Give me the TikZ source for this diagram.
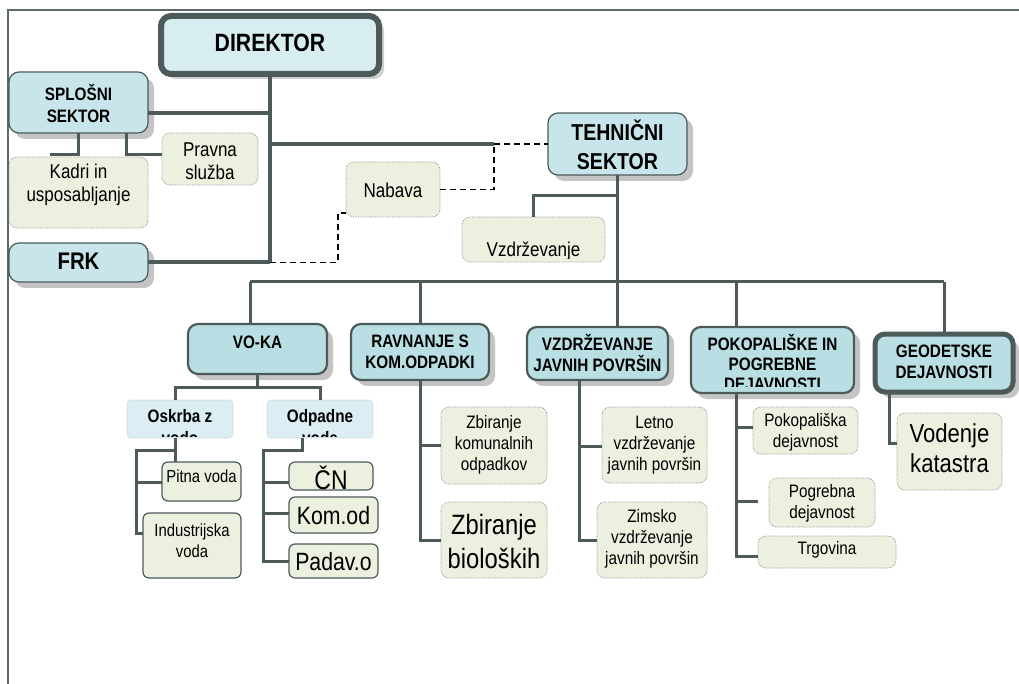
\documentclass[tikz,border=0pt]{standalone}
\usepackage{fontspec}
\setmainfont{Liberation Sans}[FakeStretch=0.85]
\usetikzlibrary{shadows}
\definecolor{dk}{HTML}{4D5A5A}
\definecolor{framec}{HTML}{5E6A6A}
\definecolor{deptfill}{HTML}{B9DFE4}
\definecolor{dirfill}{HTML}{D7EDF0}
\definecolor{splfill}{HTML}{C7E5EA}
\definecolor{leaffill}{HTML}{EBF1DE}
\definecolor{subfill}{HTML}{DBEEF4}
\definecolor{shgray}{HTML}{C4C4C4}
\definecolor{dotgray}{HTML}{8A8A8A}
\newcommand\myfs[2]{\fontsize{#1}{#2}\selectfont}
\newcommand\tbox[9]{%
  \node[#2, minimum width={(#5)-(#3)}, minimum height={(#6)-(#4)}] (#1) at ({((#3)+(#5))/2},{((#4)+(#6))/2}) {};
  \node[txt, font={#8}] (#1-t) at ({((#3)+(#5))/2},#7) {#9};}
\newcommand\ebox[6]{%
  \node[#2, minimum width={(#5)-(#3)}, minimum height={(#6)-(#4)}] (#1) at ({((#3)+(#5))/2},{((#4)+(#6))/2}) {};}
\tikzset{
  base/.style={inner sep=0pt, outer sep=0pt},
  txt/.style={inner sep=0pt, outer sep=0pt, align=center, text=black},
  shd/.style={drop shadow={shadow xshift=6pt, shadow yshift=-6pt, fill=shgray, opacity=1}},
  dirbox/.style={base, draw=dk, line width=6pt, fill=dirfill, rounded corners=10pt,
     drop shadow={shadow xshift=5pt, shadow yshift=-5pt, fill=shgray, opacity=.8}},
  dept/.style={base, draw=dk, line width=2.2pt, fill=deptfill, rounded corners=10pt, shd},
  geobox/.style={dept, line width=5pt},
  sect/.style={base, draw=dk, line width=1.2pt, fill=splfill, rounded corners=10pt, shd},
  leaf/.style={base, draw=dotgray, densely dotted, line width=0.7pt, fill=leaffill, rounded corners=8pt},
  leafs/.style={base, draw=dk, line width=1.2pt, fill=leaffill, rounded corners=6pt},
  subbox/.style={base, draw=dotgray!60, densely dotted, line width=0.6pt, fill=subfill, rounded corners=4pt},
  conn/.style={draw=dk, line width=3pt},
  connt/.style={draw=dk, line width=4pt},
  dsh/.style={draw=black, line width=1.8pt, dash pattern=on 6pt off 4pt},
  frm/.style={draw=framec, line width=2.5pt}
}
\begin{document}
\begin{tikzpicture}[x=1pt, y=-1pt]
\useasboundingbox (0,0) rectangle (1019,684);
\fill[white] (0,0) rectangle (1019,684);
\draw[frm] (8,684) -- (8,10) -- (1019,10);

% top level
\tbox{dir}{dirbox}{161}{16}{379}{74}{43}{\myfs{25}{30}\bfseries}{DIREKTOR}
\tbox{spl}{sect}{9}{72}{148}{133}{104}{\myfs{18}{22}\bfseries}{SPLOŠNI\\SEKTOR}
\tbox{frk}{sect}{9}{243}{148}{282}{261}{\myfs{24}{28}\bfseries}{FRK}
\tbox{kad}{leaf}{9}{157}{148}{228}{185}{\myfs{20}{23}}{Kadri in\\usposabljanje}
\tbox{pra}{leaf}{162}{133}{258}{185}{161}{\myfs{20}{23}}{Pravna\\služba}
\tbox{nab}{leaf}{346}{162}{440}{217}{190}{\myfs{20}{23}}{Nabava}
\tbox{teh}{sect}{548}{113}{687}{175}{145}{\myfs{23}{29}\bfseries}{TEHNIČNI\\SEKTOR}
\ebox{vzdr}{leaf}{462}{217}{605}{262}
\begin{scope}
  \clip (462,217) rectangle (605,259);
  \node[txt, font=\myfs{20}{23}] (vzdr-t) at (533.5,251) {Vzdrževanje};
\end{scope}

% departments
\tbox{vok}{dept}{188}{324}{327}{374}{342}{\myfs{18}{21}\bfseries}{VO-KA}
\tbox{rav}{dept}{351}{324}{489}{380}{352}{\myfs{18}{21}\bfseries}{RAVNANJE S\\KOM.ODPADKI}
\tbox{vzj}{dept}{527}{327}{668}{380}{353}{\myfs{18}{21}\bfseries}{VZDRŽEVANJE\\JAVNIH POVRŠIN}
\ebox{pok}{dept}{691}{327}{854}{393}
\begin{scope}
  \clip (691,327) rectangle (854,386);
  \node[txt, font=\myfs{18}{20}\bfseries] (pok-t) at (772.5,363) {POKOPALIŠKE IN\\POGREBNE\\DEJAVNOSTI};
\end{scope}
\tbox{geo}{geobox}{875}{334}{1013}{392}{362}{\myfs{18}{21}\bfseries}{GEODETSKE\\DEJAVNOSTI}

% VO-KA subtree
\ebox{osk}{subbox}{127}{400}{233}{438}
\begin{scope}
  \clip (127,400) rectangle (233,436);
  \node[txt, font=\myfs{18}{22}\bfseries] (osk-t) at (180,427) {Oskrba z\\vodo};
\end{scope}
\ebox{odp}{subbox}{267}{400}{373}{438}
\begin{scope}
  \clip (267,400) rectangle (373,436);
  \node[txt, font=\myfs{18}{22}\bfseries] (odp-t) at (320,427) {Odpadne\\vode};
\end{scope}
\tbox{pit}{leafs}{162}{462}{241}{501}{476}{\myfs{17.5}{21}}{Pitna voda}
\tbox{ind}{leafs}{143}{513}{241}{578}{541}{\myfs{17.5}{21}}{Industrijska\\voda}
\tbox{cn}{leafs}{289}{462}{373}{490}{478}{\myfs{27}{30}}{ČN}
\tbox{kom}{leafs}{289}{497}{378}{533}{516}{\myfs{25}{30}}{Kom.od}
\tbox{pad}{leafs}{289}{544}{378}{578}{562}{\myfs{25}{30}}{Padav.o}

% other subtrees
\tbox{zbk}{leaf}{441}{407}{547}{484}{445}{\myfs{18}{21}}{Zbiranje\\komunalnih\\odpadkov}
\tbox{zbb}{leaf}{441}{502}{547}{578}{541}{\myfs{28}{34}}{Zbiranje\\bioloških}
\tbox{let}{leaf}{602}{407}{707}{483}{445}{\myfs{18}{21}}{Letno\\vzdrževanje\\javnih površin}
\tbox{zim}{leaf}{597}{502}{707}{578}{539}{\myfs{18}{21}}{Zimsko\\vzdrževanje\\javnih površin}
\tbox{pkd}{leaf}{753}{407}{858}{454}{432}{\myfs{18}{21}}{Pokopališka\\dejavnost}
\tbox{pog}{leaf}{769}{478}{875}{527}{503}{\myfs{18}{21}}{Pogrebna\\dejavnost}
\tbox{trg}{leaf}{758}{536}{896}{568}{550}{\myfs{18}{21}}{Trgovina}
\tbox{vod}{leaf}{897}{413}{1002}{490}{448}{\myfs{26}{30}}{Vodenje\\katastra}

% connectors: top
\coordinate (tB) at (dir.south |- frk.east);
\coordinate (dj) at (494,144);
\draw[connt] (dir.south) -- (tB);
\draw[connt] (spl.east |- 0,113) -- (dir.south |- 0,113);
\draw[connt] (frk.east) -- (tB);
\draw[connt] (dir.south |- dj) -- (dj);
\draw[dsh] (dj) -- (teh.west |- dj);
\draw[dsh] (nab.east) -| (dj);
\draw[dsh] (tB) -| (338,213) -- (nab.west |- 0,213);
\draw[conn] (spl.south) |- (50,155);
\draw[conn] (spl.south -| 126,0) |- (pra.west |- 0,155);

% tehnicni
\draw[conn] (teh.south) -- (teh.south |- vzj.north);
\draw[conn] (teh.south |- 0,196) -| (vzdr.north);

% bus
\coordinate (b1) at (250,282);
\coordinate (b5) at (944,282);
\draw[conn] (b1) -- (b5);
\draw[conn] (b1) -- (b1 |- vok.north);
\draw[conn] (rav.north |- b1) -- (rav.north);
\draw[conn] (736,282) -- (pok.north -| 736,0);
\draw[conn] (b5) -- (geo.north);

% VO-KA
\draw[conn] (vok.south) |- (175,387) -- (osk.north -| 175,0);
\draw[conn] (vok.south) |- (odp.north |- 0,387) -- (odp.north);
\draw[conn] (osk.south -| 175,0) -- (pit.north -| 175,0);
\draw[conn] (175,450) -| (136,533) -- (ind.west |- 0,533);
\draw[conn] (136,482) -- (pit.west |- 0,482);
\draw[conn] (odp.south -| 302,0) |- (263,450) |- (pad.west);
\draw[conn] (263,482) -- (cn.west |- 0,482);
\draw[conn] (263,513) -- (kom.west |- 0,513);

% Ravnanje
\draw[conn] (rav.south) |- (zbb.west);
\draw[conn] (rav.south |- zbk.west) -- (zbk.west);

% Vzdrzevanje javnih povrsin
\draw[conn] (vzj.south -| 579,0) |- (zim.west);
\draw[conn] (579,446) -- (let.west |- 0,446);

% Pokopaliske
\draw[conn] (pok.south -| 736,0) |- (trg.west |- 0,556);
\draw[conn] (736,427) -- (pkd.west |- 0,427);
\draw[conn] (736,501) -- (758,501);

% Geodetske
\draw[conn] (geo.south -| 889,0) |- (vod.west |- 0,443);
\end{tikzpicture}
\end{document}
